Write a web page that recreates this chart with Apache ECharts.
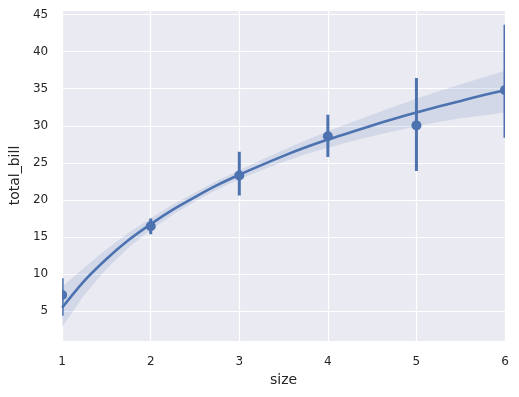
<!DOCTYPE html>
<html>
<head>
<meta charset="utf-8">
<script src="https://cdn.jsdelivr.net/npm/echarts@6/dist/echarts.min.js"></script>
<style>html,body{margin:0;padding:0;background:#fff}#c{width:519px;height:397px}</style>
</head>
<body>
<div id="c"></div>
<script>
// Mean total_bill per party size, with 95% CI
var sizes = [1, 2, 3, 4, 5, 6];
var means = [7.2, 16.45, 23.3, 28.6, 30.05, 34.8];
var ciLow = [4.4, 15.4, 20.6, 25.8, 23.9, 28.4];
var ciHigh = [9.45, 17.5, 26.5, 31.5, 36.45, 43.6];

// Log-x regression fit and its confidence band
var fitX = [1, 1.25, 1.5, 1.75, 2, 2.25, 2.5, 2.75, 3, 3.25, 3.5, 3.75, 4, 4.25, 4.5, 4.75, 5, 5.25, 5.5, 5.75, 6];
var fitY = [5.5, 9.1, 12.05, 14.6, 16.75, 18.7, 20.4, 22.0, 23.4, 24.7, 25.95, 27.1, 28.15, 29.1, 30.05, 30.95, 31.8, 32.6, 33.35, 34.1, 34.8];
var bandLow = [2.9, 7.2, 10.7, 13.6, 15.95, 18.0, 19.8, 21.4, 22.8, 24.0, 25.15, 26.15, 27.05, 27.85, 28.6, 29.3, 29.9, 30.5, 31.0, 31.4, 31.8];
var bandHigh = [8.3, 10.9, 13.35, 15.6, 17.55, 19.4, 21.0, 22.6, 24.0, 25.4, 26.75, 28.05, 29.25, 30.4, 31.5, 32.6, 33.65, 34.65, 35.6, 36.5, 37.4];

var yTicks = [5, 10, 15, 20, 25, 30, 35, 40, 45];

var blue = '#4c72b0';
var txt = '#262626';
var chart = echarts.init(document.getElementById('c'), null, {renderer: 'canvas'});

function clipRect(params) {
  var cs = params.coordSys;
  return {type: 'rect', shape: {x: cs.x, y: cs.y, width: cs.width, height: cs.height}};
}

chart.setOption({
  animation: false,
  backgroundColor: '#ffffff',
  grid: {left: 61, right: 14, top: 10, bottom: 56, show: true, backgroundColor: '#eaeaf2', borderWidth: 0},
  xAxis: {
    type: 'value', min: 1, max: 6, interval: 1,
    name: 'size', nameLocation: 'middle', nameGap: 31,
    nameTextStyle: {fontFamily: 'DejaVu Sans', fontSize: 14, color: txt},
    axisLine: {show: false}, axisTick: {show: false},
    axisLabel: {fontFamily: 'DejaVu Sans', fontSize: 12, color: txt, margin: 15},
    splitLine: {show: true, lineStyle: {color: '#ffffff', width: 1.2}}
  },
  yAxis: {
    type: 'value', min: 1, max: 45.6, splitNumber: 9, minInterval: 5, maxInterval: 5,
    name: 'total_bill', nameLocation: 'middle', nameGap: 38,
    nameTextStyle: {fontFamily: 'DejaVu Sans', fontSize: 14, color: txt},
    axisLine: {show: false}, axisTick: {show: false},
    axisLabel: {fontFamily: 'DejaVu Sans', fontSize: 12, color: txt, margin: 14,
      showMinLabel: false, showMaxLabel: false,
      formatter: function (v) { return yTicks.indexOf(v) >= 0 ? String(v) : ''; }},
    splitLine: {show: true, lineStyle: {color: '#ffffff', width: 1.2}}
  },
  series: [
    {type: 'custom', z: 1, silent: true, clip: true,
     data: fitX.map(function (x, i) { return [x, bandLow[i], bandHigh[i]]; }),
     renderItem: function (params, api) {
       if (params.dataIndex !== 0) return null;
       var up = [], lo = [];
       for (var i = 0; i < fitX.length; i++) {
         up.push(api.coord([fitX[i], bandHigh[i]]));
         lo.unshift(api.coord([fitX[i], bandLow[i]]));
       }
       return {type: 'polygon', shape: {points: up.concat(lo)},
               style: {fill: 'rgba(76,114,176,0.15)'}, clipPath: clipRect(params)};
     }},
    {type: 'line', data: fitX.map(function (x, i) { return [x, fitY[i]]; }), smooth: 0.3,
     symbol: 'none', lineStyle: {color: blue, width: 2.6}, z: 3},
    {type: 'custom', z: 4, clip: true,
     data: sizes.map(function (s, i) { return [s, ciLow[i], ciHigh[i], means[i]]; }),
     renderItem: function (params, api) {
       var a = api.coord([api.value(0), api.value(1)]);
       var b = api.coord([api.value(0), api.value(2)]);
       var m = api.coord([api.value(0), api.value(3)]);
       return {type: 'group', children: [
         {type: 'line', shape: {x1: a[0], y1: a[1], x2: b[0], y2: b[1]},
          style: {stroke: blue, lineWidth: 3}, clipPath: clipRect(params)},
         {type: 'circle', shape: {cx: m[0], cy: m[1], r: 5}, style: {fill: blue},
          clipPath: clipRect(params)}
       ]};
     }}
  ]
});
</script>
</body>
</html>
